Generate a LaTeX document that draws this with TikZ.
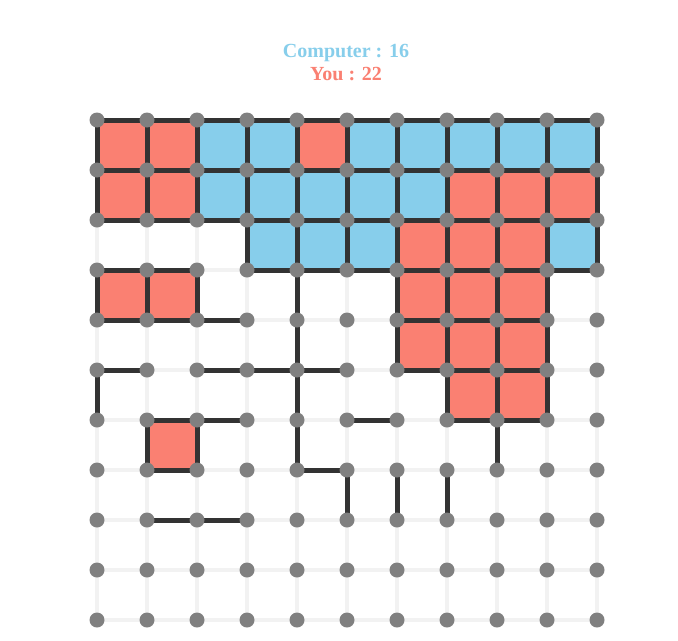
\documentclass[tikz,border=0pt]{standalone}
\usepackage{fontspec}
\setmainfont{Liberation Serif}
\definecolor{boxred}{HTML}{FA8072}
\definecolor{boxblue}{HTML}{87CEEB}
\definecolor{edgedark}{HTML}{333333}
\definecolor{edgelight}{HTML}{F2F2F2}
\definecolor{dotgray}{HTML}{808080}
\begin{document}
\begin{tikzpicture}[x=0.75pt,y=-0.75pt,
  dot/.style={circle,fill=dotgray,inner sep=0pt,minimum size=11.25pt},
  lightedge/.style={draw=edgelight,line width=3pt},
  darkedge/.style={draw=edgedark,line width=3.75pt},
  redbox/.style={fill=boxred},
  bluebox/.style={fill=boxblue},
  score/.style={font=\fontsize{15}{18}\selectfont\bfseries,anchor=base,inner sep=0pt}]
\useasboundingbox[fill=white] (0,0) rectangle (678,640);
\foreach \i in {0,...,10}{\foreach \j in {0,...,10}{\coordinate (p-\i-\j) at ({97+50*\i},{120+50*\j});}}
% boxes
\foreach \c/\r in {0/0,1/0,4/0,0/1,1/1,7/1,8/1,9/1,6/2,7/2,8/2,0/3,1/3,6/3,7/3,8/3,6/4,7/4,8/4,7/5,8/5,1/6}
  {\fill[redbox] (p-\c-\r) rectangle +(50,50);}
\foreach \c/\r in {2/0,3/0,5/0,6/0,7/0,8/0,9/0,2/1,3/1,4/1,5/1,6/1,3/2,4/2,5/2,9/2}
  {\fill[bluebox] (p-\c-\r) rectangle +(50,50);}
% light grid
\foreach \j in {0,...,10}{\draw[lightedge] (p-0-\j) -- (p-10-\j); \draw[lightedge] (p-\j-0) -- (p-\j-10);}
% dark horizontal edges
\foreach \i/\j in {0/0,1/0,2/0,3/0,4/0,5/0,6/0,7/0,8/0,9/0,
  0/1,1/1,2/1,3/1,4/1,5/1,6/1,7/1,8/1,9/1,
  0/2,1/2,2/2,3/2,4/2,5/2,6/2,7/2,8/2,9/2,
  0/3,1/3,3/3,4/3,5/3,6/3,7/3,8/3,9/3,
  0/4,1/4,2/4,6/4,7/4,8/4,
  0/5,2/5,3/5,4/5,6/5,7/5,8/5,
  1/6,2/6,5/6,7/6,8/6,
  1/7,4/7,
  1/8,2/8}
  {\pgfmathtruncatemacro\ni{\i+1}\draw[darkedge] (p-\i-\j) -- (p-\ni-\j);}
% dark vertical edges
\foreach \i/\j in {0/0,1/0,2/0,3/0,4/0,5/0,6/0,7/0,8/0,9/0,10/0,
  0/1,1/1,2/1,3/1,4/1,5/1,6/1,7/1,8/1,9/1,10/1,
  3/2,4/2,5/2,6/2,7/2,8/2,9/2,10/2,
  0/3,1/3,2/3,4/3,6/3,7/3,8/3,9/3,
  4/4,6/4,7/4,8/4,9/4,
  0/5,4/5,7/5,8/5,9/5,
  1/6,2/6,4/6,8/6,
  5/7,6/7,7/7}
  {\pgfmathtruncatemacro\nj{\j+1}\draw[darkedge] (p-\i-\j) -- (p-\i-\nj);}
% dots
\foreach \i in {0,...,10}{\foreach \j in {0,...,10}{\node[dot] (d-\i-\j) at (p-\i-\j) {};}}
% scores
\node[score,text=boxblue] (comp) at (346,57) {Computer : 16};
\node[score,text=boxred] (you) at (346,80) {You : 22};
\end{tikzpicture}
\end{document}
